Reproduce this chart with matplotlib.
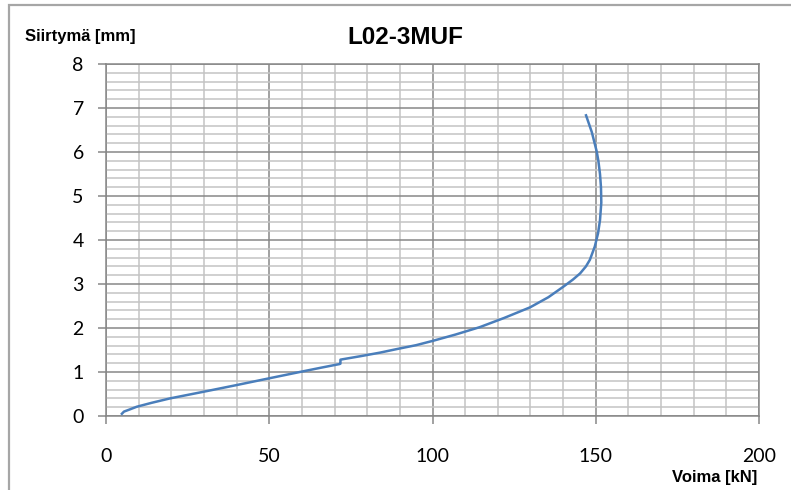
import matplotlib
matplotlib.use("Agg")
import matplotlib.pyplot as plt
from matplotlib.patches import Rectangle
from matplotlib.ticker import MultipleLocator

# Load test: force vs. displacement
force_kN = [4.6, 5.5, 7.3, 9.4, 14.0, 19.6, 29.8, 39.8, 50.2, 60.0, 66.0,
            71.5, 71.8, 71.8, 72.5, 78.0, 83.9, 89.0, 95.0, 100.2, 107.0,
            114.5, 122.0, 129.9, 135.5, 140.1, 143.0, 145.2, 147.0, 148.2,
            149.7, 150.7, 151.3, 151.7, 151.6, 151.3, 150.8, 150.3, 148.8,
            146.9]
disp_mm = [0.03, 0.10, 0.15, 0.21, 0.30, 0.40, 0.55, 0.70, 0.86, 1.01, 1.10,
           1.18, 1.19, 1.28, 1.29, 1.36, 1.44, 1.52, 1.61, 1.71, 1.85,
           2.02, 2.23, 2.47, 2.70, 2.94, 3.10, 3.24, 3.40, 3.55,
           3.85, 4.15, 4.45, 4.85, 5.20, 5.50, 5.80, 6.01, 6.45,
           6.86]

x_ticks = [0, 50, 100, 150, 200]
y_ticks = [0, 1, 2, 3, 4, 5, 6, 7, 8]

W, H, DPI = 791, 490, 100
fig = plt.figure(figsize=(W / DPI, H / DPI), dpi=DPI)
fig.patch.set_facecolor("white")

# Outer chart frame (left and top edges visible)
fig.patches.append(Rectangle((9 / W, -0.1), 1.2, (H - 5) / H + 0.1,
                             transform=fig.transFigure, fill=False,
                             edgecolor="#a6a6a6", linewidth=1.6))

L, R, T, B = 106, 759, 64, 416
ax = fig.add_axes([L / W, 1 - B / H, (R - L) / W, (B - T) / H])

ax.plot(force_kN, disp_mm, color="#4a7ebb", linewidth=1.8,
        solid_capstyle="butt", solid_joinstyle="round", zorder=3)

ax.set_xlim(0, 200)
ax.set_ylim(0, 8)
ax.set_xticks(x_ticks)
ax.set_yticks(y_ticks)
ax.xaxis.set_minor_locator(MultipleLocator(10))
ax.yaxis.set_minor_locator(MultipleLocator(0.2))

major_c = "#878787"
minor_c = "#c3c3c3"
ax.grid(which="minor", color=minor_c, linewidth=1.1, zorder=0)
ax.grid(which="major", color=major_c, linewidth=1.1, zorder=1)
ax.set_axisbelow(True)
for s in ax.spines.values():
    s.set_color(major_c)
    s.set_linewidth(1.1)

ax.tick_params(which="major", direction="out", length=6, width=1.1,
               color=major_c, labelsize=14)
ax.tick_params(which="minor", length=0)
ax.tick_params(axis="x", pad=17)
ax.tick_params(axis="y", pad=10)
for lab in ax.get_xticklabels() + ax.get_yticklabels():
    lab.set_fontfamily(["Lato", "DejaVu Sans"])

bold = dict(family=["Liberation Sans", "DejaVu Sans"], weight="bold")
fig.text(405 / W, 1 - 38 / H, "L02-3MUF", ha="center", va="center",
         fontsize=17.5, **bold)
fig.text(25 / W, 1 - 37 / H, "Siirtymä [mm]", ha="left", va="center",
         fontsize=12, **bold)
fig.text(757 / W, 1 - 477 / H, "Voima [kN]", ha="right", va="center",
         fontsize=12, **bold)

fig.savefig("out.png", dpi=DPI, facecolor="white")
